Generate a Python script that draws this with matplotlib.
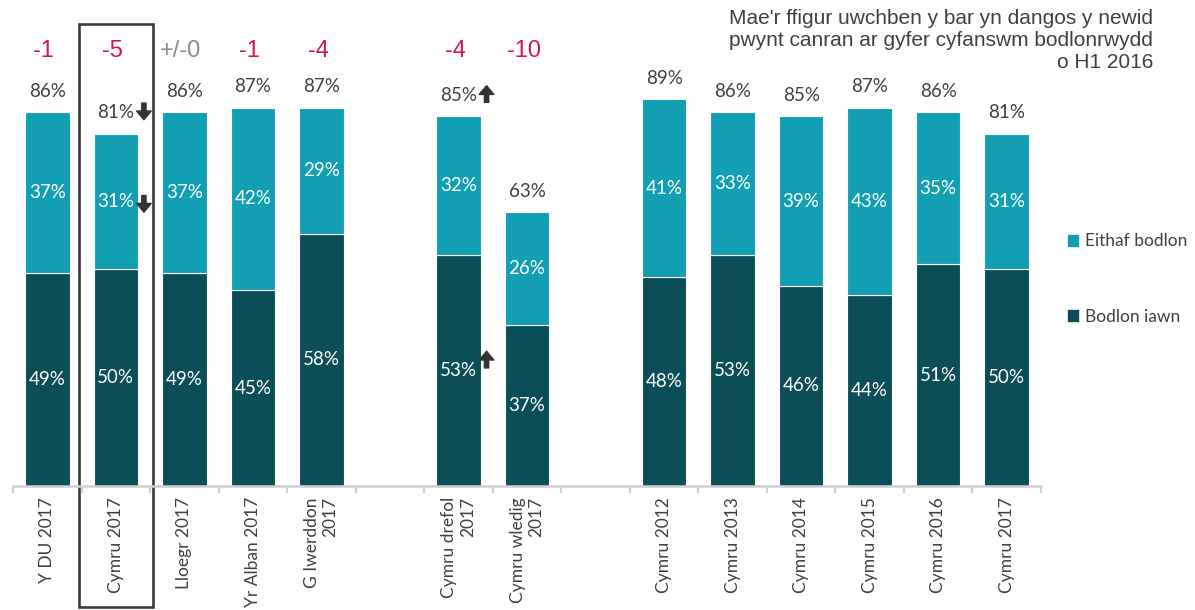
import numpy as np
import matplotlib.pyplot as plt
from matplotlib.patches import Patch, Rectangle
from matplotlib.transforms import blended_transform_factory, offset_copy

# ---------------------

categories = ['Y DU 2017', 'Cymru 2017', 'Lloegr 2017', 'Yr Alban 2017', 'G Iwerddon\n2017', '',
              'Cymru drefol\n2017', 'Cymru wledig\n2017', '',
              'Cymru 2012', 'Cymru 2013', 'Cymru 2014', 'Cymru 2015', 'Cymru 2016', 'Cymru 2017']
bodlon_iawn = [49, 50, 49, 45, 58, np.nan, 53, 37, np.nan, 48, 53, 46, 44, 51, 50]
eithaf_bodlon = [37, 31, 37, 42, 29, np.nan, 32, 26, np.nan, 41, 33, 39, 43, 35, 31]
totals = [86, 81, 86, 87, 87, np.nan, 85, 63, np.nan, 89, 86, 85, 87, 86, 81]
changes = ['-1', '-5', '+/-0', '-1', '-4', '', '-4', '-10', '', '', '', '', '', '', '']
# arrows: (index, which label, direction)
arrows = [(1, 'total', 'down'), (1, 'light', 'down'), (6, 'total', 'up'), (6, 'dark', 'up')]
note = "Mae'r ffigur uwchben y bar yn dangos y newid\npwynt canran ar gyfer cyfanswm bodlonrwydd\no H1 2016"

dark = '#0B4E58'
light = '#129FB3'
grey = '#404040'
red = '#D4145A'
lab_font = 'Lato'

# ---------------------

fig = plt.figure(figsize=(11.95, 6.10), dpi=100)
ax = fig.add_axes([13 / 1195, 124 / 610, 1028 / 1195, 435 / 610])

idx = [i for i in range(len(categories)) if not np.isnan(totals[i])]
x = np.array(idx)
iawn = np.array([bodlon_iawn[i] for i in idx])
eith = np.array([eithaf_bodlon[i] for i in idx])

ax.bar(x, iawn, width=0.65, color=dark, edgecolor='white', linewidth=0.8)
ax.bar(x, eith, width=0.65, bottom=iawn, color=light, edgecolor='white', linewidth=0.8)

for k, i in enumerate(idx):
    ax.text(i, iawn[k] / 2, f'{iawn[k]}%', ha='center', va='center', color='white',
            fontsize=13.5, family=lab_font)
    ax.text(i, iawn[k] + eith[k] / 2, f'{eith[k]}%', ha='center', va='center', color='white',
            fontsize=13.5, family=lab_font)
    ax.annotate(f'{totals[i]:.0f}%', (i, totals[i]), xytext=(0, 15), textcoords='offset points',
                ha='center', va='center', color=grey, fontsize=13.5, family=lab_font)
    if changes[i]:
        c = '#8C8C8C' if changes[i] == '+/-0' else red
        ax.text(i - 0.05, 100.0, changes[i], ha='center', va='center', color=c,
                fontsize=17, family='Liberation Sans', clip_on=False)

for i, which, d in arrows:
    if which == 'total':
        y0, off = totals[i], 16
    elif which == 'light':
        y0, off = bodlon_iawn[i] + eithaf_bodlon[i] / 2, -2
    else:
        y0, off = bodlon_iawn[i] / 2, 8
    sgn = 1 if d == 'up' else -1
    head = offset_copy(ax.transData, fig=fig, x=0, y=off + sgn * 6, units='points')
    tail = offset_copy(ax.transData, fig=fig, x=0, y=off - sgn * 6, units='points')
    ax.annotate('', xy=(i + 0.41, y0), xycoords=head, xytext=(i + 0.41, y0), textcoords=tail,
                annotation_clip=False,
                arrowprops=dict(arrowstyle='simple,head_width=0.75,head_length=0.45,tail_width=0.22',
                                color='#333333', mutation_scale=14, shrinkA=0, shrinkB=0))

ax.set_xlim(-0.5, len(categories) - 0.5)
ax.set_ylim(0, 100)
ax.set_xticks(range(len(categories)))
ax.set_xticklabels(categories, rotation=90, ha='center', va='top', multialignment='right',
                   fontsize=12.5, family=lab_font, color=grey)
ax.set_xticks(np.arange(-0.5, len(categories), 1), minor=True)
ax.tick_params(axis='x', which='major', length=0, pad=8)
ax.tick_params(axis='x', which='minor', length=5, width=1.5, color='#D0D0D0')
ax.set_yticks([])
for s in ['top', 'right', 'left']:
    ax.spines[s].set_visible(False)
ax.spines['bottom'].set_color('#D0D0D0')
ax.spines['bottom'].set_linewidth(1.8)

# box around Cymru 2017
tr = blended_transform_factory(ax.transData, fig.transFigure)
ax.add_patch(Rectangle((1 - 0.54, 3 / 610), 1.08, 583 / 610, transform=tr, fill=False,
                       edgecolor='#3A3A3A', linewidth=1.9, clip_on=False))

fig.text(1153 / 1195, 1 - 9 / 610, note, ha='right', va='top', fontsize=15,
         family='Liberation Sans', color=grey, linespacing=1.2)

handles = [Patch(color=light), Patch(color=dark)]
fig.legend(handles, ['Eithaf bodlon', 'Bodlon iawn'], loc='center left',
           bbox_to_anchor=(1052 / 1195, 1 - 279 / 610), frameon=False, handlelength=0.6,
           handleheight=0.6, handletextpad=0.4, labelspacing=3.4,
           prop=dict(family=lab_font, size=12.5), labelcolor=grey)

fig.savefig('out.png', dpi=100)
